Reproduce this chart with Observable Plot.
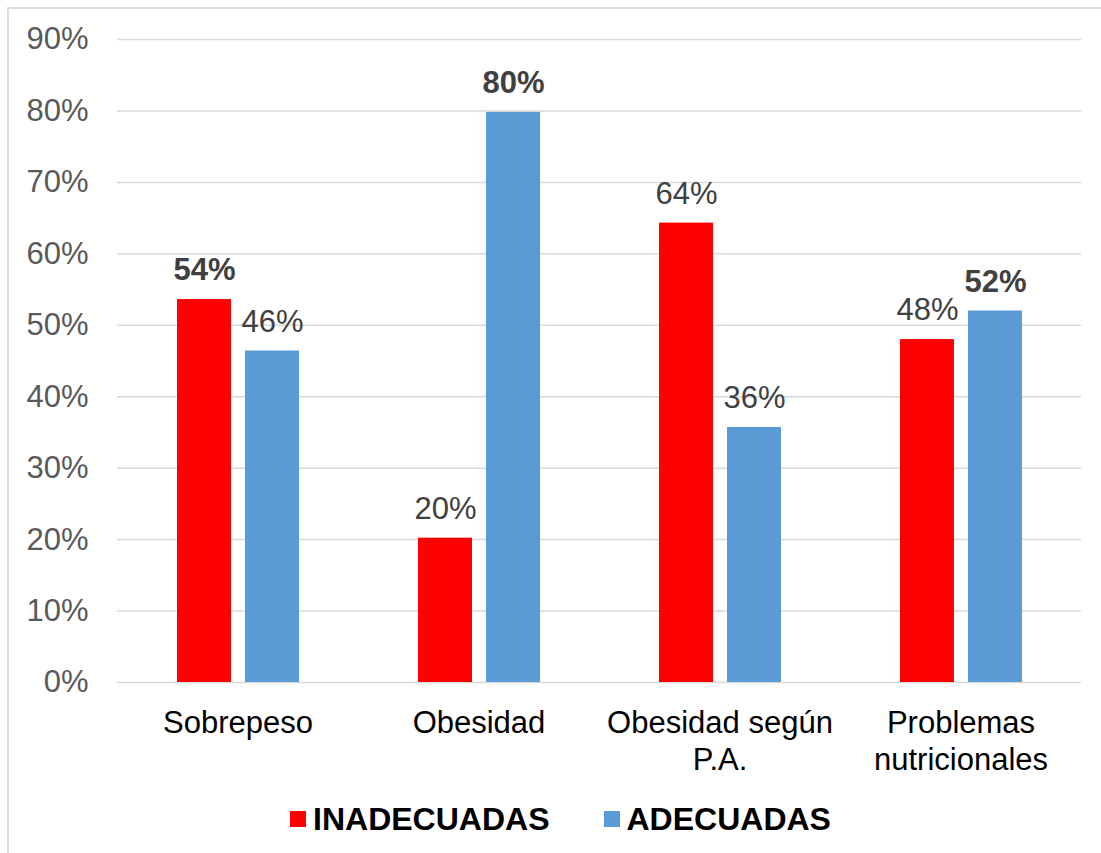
<!DOCTYPE html>
<html>
<head>
<meta charset="utf-8">
<script src="https://cdn.jsdelivr.net/npm/d3@7"></script>
<script src="https://cdn.jsdelivr.net/npm/@observablehq/plot@0.6"></script>
<style>
  html, body { margin: 0; padding: 0; background: #fff; overflow: hidden; }
  body { width: 1101px; height: 853px; position: relative; font-family: "Liberation Sans", Arial, sans-serif; }
  #chart { position: absolute; left: 0; top: 0; }
  #frame { position: absolute; left: 7px; top: 7px; right: -10px; bottom: -10px;
           border-top: 2px solid #dcdcdc; border-left: 2px solid #dcdcdc; pointer-events: none; }
  #legend { position: absolute; left: 0; top: 799px; width: 1101px; height: 40px; padding-left: 20px;
            box-sizing: border-box; display: flex; justify-content: center; align-items: center; gap: 54px;
            font-weight: bold; font-size: 32px; color: #000; }
  .item { display: flex; align-items: center; gap: 7px; }
  .swatch { width: 16px; height: 16px; display: inline-block; }
</style>
</head>
<body>
<div id="chart"></div>
<div id="legend"></div>
<div id="frame"></div>
<script>
// Categories and their two-line axis labels
const categories = ["Sobrepeso", "Obesidad", "Obesidad según P.A.", "Problemas nutricionales"];
const categoryTickLabels = ["Sobrepeso", "Obesidad", "Obesidad según\nP.A.", "Problemas\nnutricionales"];

// Series
const series = ["INADECUADAS", "ADECUADAS"];
const seriesColors = ["#FF0000", "#5B9BD5"];

// Percentages per category
const inadecuadas = [53.6, 20.2, 64.3, 48.0];
const adecuadas = [46.4, 79.8, 35.7, 52.0];

// Which value labels are set in bold
const inadecuadasBold = [true, false, false, false];
const adecuadasBold = [false, true, false, true];

// Y axis ticks
const yTicks = [0, 10, 20, 30, 40, 50, 60, 70, 80, 90];

const rows = [];
categories.forEach((c, i) => {
  rows.push({category: c, serie: series[0], value: inadecuadas[i], bold: inadecuadasBold[i]});
  rows.push({category: c, serie: series[1], value: adecuadas[i], bold: adecuadasBold[i]});
});

const fmt = d => Math.round(d.value) + "%";
const labelOpts = {
  fx: "category", x: "serie", y: "value", text: fmt,
  dy: -29, fontSize: 31, fill: "#404040"
};

const chart = Plot.plot({
  width: 1101,
  height: 790,
  marginLeft: 117,
  marginRight: 20,
  marginTop: 39,
  marginBottom: 108,
  style: {fontFamily: "'Liberation Sans', Arial, sans-serif", background: "transparent"},
  fx: {domain: categories, padding: 0},
  x: {domain: series, paddingInner: 0.212, paddingOuter: 0.87, axis: null},
  y: {domain: [0, 90]},
  color: {domain: series, range: seriesColors},
  marks: [
    Plot.gridY({ticks: yTicks, stroke: "#d9d9d9", strokeOpacity: 1, strokeWidth: 1.5}),
    Plot.axisY({ticks: yTicks, tickFormat: d => d + "%", tickSize: 0, tickPadding: 29,
                fontSize: 31, fill: "#595959", label: null}),
    Plot.axisFx({anchor: "bottom", tickFormat: d => categoryTickLabels[categories.indexOf(d)], tickSize: 0,
                 tickPadding: 24, fontSize: 31, fill: "#000", lineHeight: 1.2, label: null}),
    Plot.barY(rows, {fx: "category", x: "serie", y: "value", fill: "serie"}),
    Plot.text(rows.filter(d => !d.bold), labelOpts),
    Plot.text(rows.filter(d => d.bold), {...labelOpts, fontWeight: "bold"})
  ]
});
document.getElementById("chart").appendChild(chart);

// Legend below the chart
const legend = document.getElementById("legend");
series.forEach((s, i) => {
  const item = document.createElement("div");
  item.className = "item";
  const sw = document.createElement("span");
  sw.className = "swatch";
  sw.style.background = seriesColors[i];
  const label = document.createElement("span");
  label.textContent = s;
  item.appendChild(sw);
  item.appendChild(label);
  legend.appendChild(item);
});
</script>
</body>
</html>
